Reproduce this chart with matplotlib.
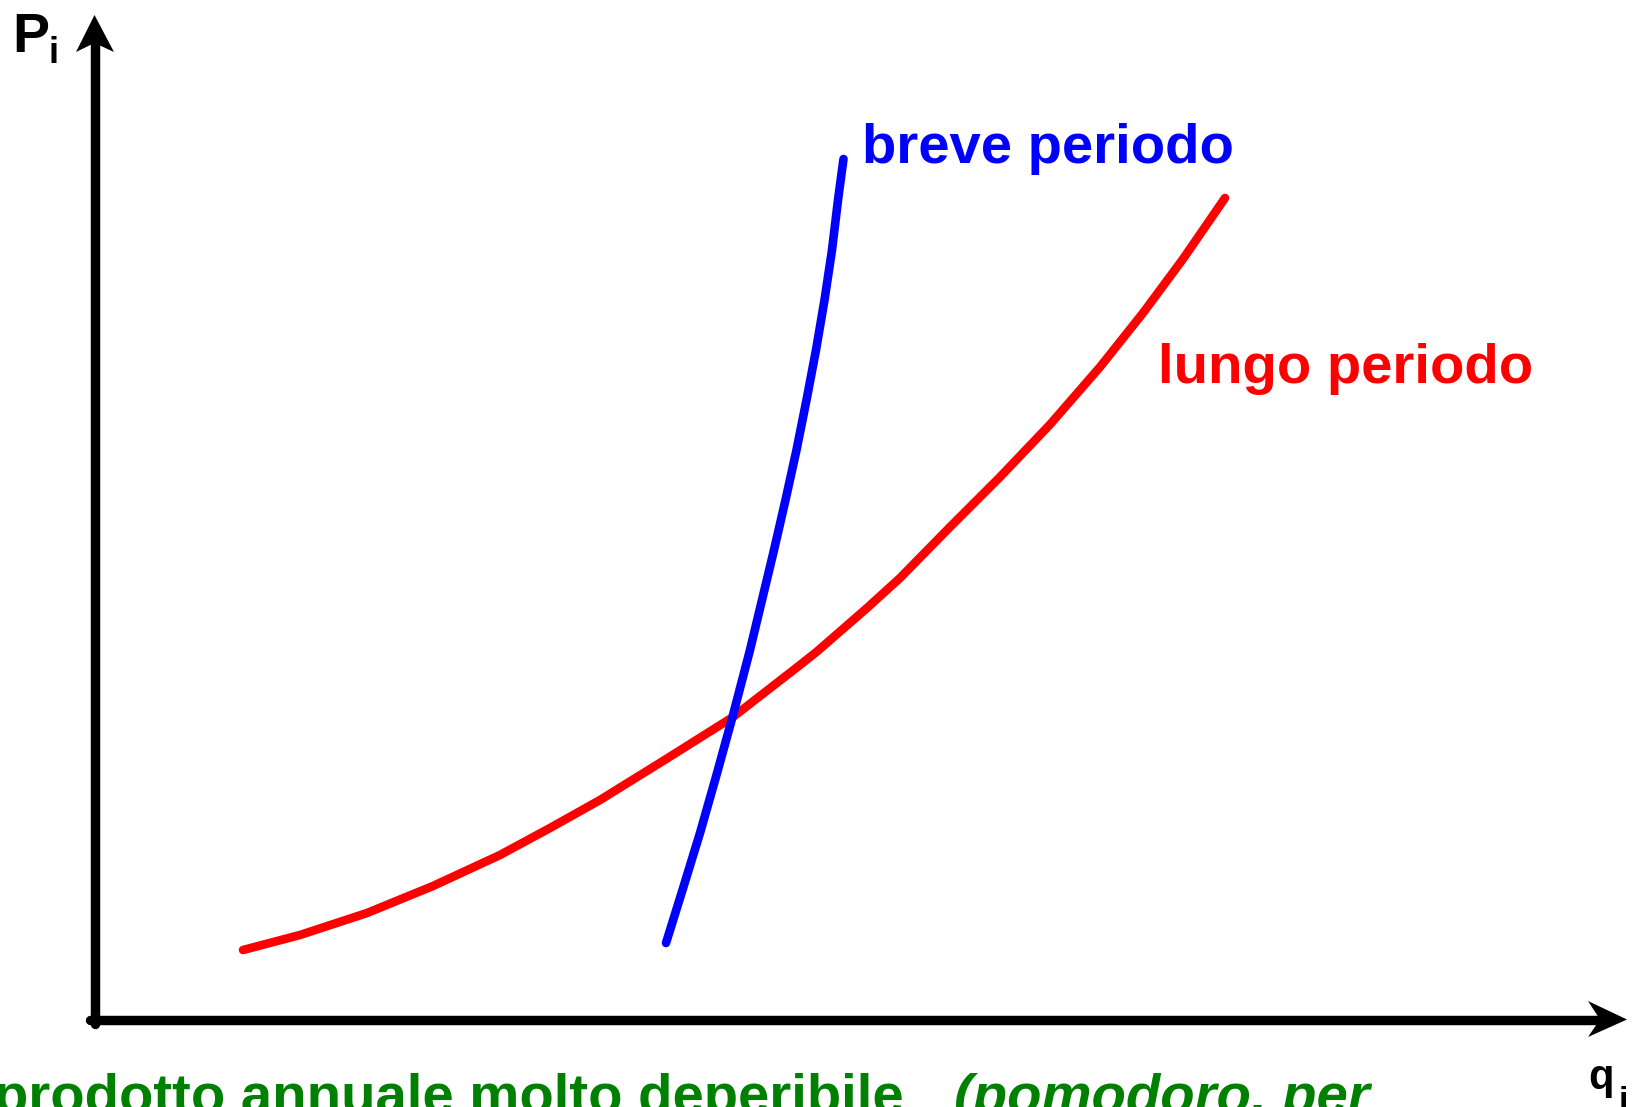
import matplotlib; matplotlib.use("Agg")
import matplotlib.pyplot as plt
from matplotlib.patches import Polygon

plt.rcParams['font.family'] = ['Liberation Sans', 'DejaVu Sans']

# curve values (q, P), arbitrary units, origin at axes corner
q_breve = [57.15, 58.80, 60.55, 62.20, 63.80, 65.55, 66.75, 67.95, 69.10,
           70.20, 71.20, 72.15, 73.00, 73.75, 74.35, 74.90]
p_breve = [7.65, 12.95, 18.65, 24.45, 30.25, 36.95, 41.95, 46.95, 51.95,
           56.95, 61.95, 66.95, 71.95, 76.95, 81.95, 86.05]

q_lungo = [14.85, 20.55, 27.25, 33.85, 40.55, 45.55, 50.55, 57.25, 63.85, 70.55,
           72.25, 77.25, 80.55, 85.55, 90.55, 95.55, 100.55, 104.85, 108.85, 113.05]
p_lungo = [6.95, 8.45, 10.65, 13.35, 16.45, 19.15, 21.95, 26.10, 30.25, 35.45,
           36.80, 41.15, 44.15, 49.25, 54.25, 59.50, 65.25, 70.65, 76.05, 82.15]

lab_breve = "breve periodo"
lab_lungo = "lungo periodo"
caption_a = "prodotto annuale molto deperibile"
caption_b = "(pomodoro, per"
GREEN = "#008000"

fig = plt.figure(figsize=(16.44, 11.07), dpi=100)
ax = fig.add_axes([0, 0, 1, 1])
ax.set_xlim(-9.45, 154.95)
ax.set_ylim(-8.75, 101.95)
ax.axis('off')

# axes with arrow heads
ax.plot([0, 0], [-0.45, 97.7], color='black', lw=6.8, solid_capstyle='round')
ax.plot([-0.45, 150.7], [0, 0], color='black', lw=6.8, solid_capstyle='round')
ax.add_patch(Polygon([(0, 100.45), (-1.85, 96.75), (0, 97.65), (1.95, 96.75)],
                     closed=True, color='black', lw=0))
ax.add_patch(Polygon([(153.25, 0), (149.35, 1.85), (150.55, 0), (149.35, -1.75)],
                     closed=True, color='black', lw=0))

# curves
ax.plot(q_lungo, p_lungo, color='#ff0000', lw=6.2, solid_capstyle='round',
        solid_joinstyle='round')
ax.plot(q_breve, p_breve, color='#0000ff', lw=6.2, solid_capstyle='round',
        solid_joinstyle='round')

ax.text(76.75, 85.65, lab_breve, color='#0000ff', fontsize=40.5, fontweight='bold',
        ha='left', va='baseline')
ax.text(106.35, 63.65, lab_lungo, color='#ff0000', fontsize=40.5, fontweight='bold',
        ha='left', va='baseline')

# axis labels
ax.text(-8.2, 96.75, "P", fontsize=40, fontweight='bold', ha='left', va='baseline')
ax.text(-4.6, 95.65, "i", fontsize=26, fontweight='bold', ha='left', va='baseline')
ax.text(149.4, -6.95, "q", fontsize=30, fontweight='bold', ha='left', va='baseline')
ax.text(152.4, -9.1, "i", fontsize=24, fontweight='bold', ha='left', va='baseline')

# caption (cut by the bottom edge, as in the original slide)
ax.text(-10.1, -9.35, caption_a, color=GREEN, fontsize=40.5, fontweight='bold',
        ha='left', va='baseline')
ax.text(85.9, -9.35, caption_b, color=GREEN, fontsize=40.5, fontweight='bold',
        fontstyle='italic', ha='left', va='baseline')

fig.savefig("out.png", dpi=100)
